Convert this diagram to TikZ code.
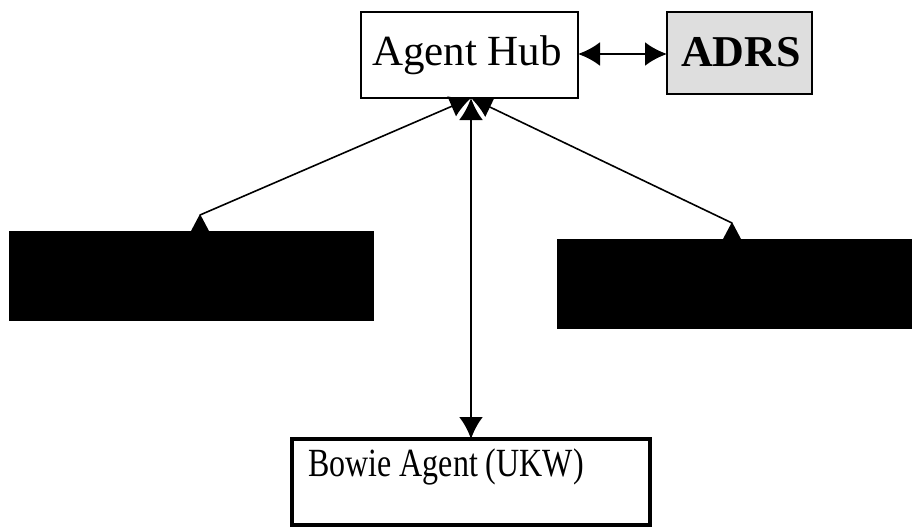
\documentclass[tikz,border=0pt]{standalone}
\usepackage{fontspec}
\setmainfont{Liberation Serif}
\usetikzlibrary{arrows.meta}
\begin{document}
\begin{tikzpicture}[x=1pt,y=-1pt,
  box/.style={draw=black, line width=2.6pt, rectangle, inner sep=0pt, outer sep=0pt},
  darkbox/.style={draw=black, fill=black, line width=1pt, rectangle, inner sep=0pt, outer sep=0pt},
  bigtip/.style={{Latex[length=22pt,width=24pt]}-{Latex[length=22pt,width=24pt]}},
  thinlink/.style={line width=1.6pt},
  thicklink/.style={line width=2.8pt},
  marker/.style={fill=black}
]
\useasboundingbox (0,0) rectangle (913,527);

\node[box, minimum width=217pt, minimum height=86pt] (hub) at (469.5,55) {};
\node (hubtext) at (467,55) {\fontsize{43}{48}\selectfont Agent Hub};

\node[box, fill=black!13, minimum width=145pt, minimum height=82pt] (adrs) at (739.5,53) {};
\node (adrstext) at (741,52) {\fontsize{44}{50}\selectfont\bfseries ADRS};

\node[darkbox, minimum width=364pt, minimum height=89pt] (left) at (191,275.5) {};
\node[darkbox, minimum width=354pt, minimum height=89pt] (right) at (734,283.5) {};

\node[box, line width=3.4pt, minimum width=358pt, minimum height=86pt] (bowie) at (471,482) {};
\node[anchor=west, inner sep=0pt] (bowietext) at (308,467) {\fontsize{40}{45}\selectfont\scalebox{0.8}[1]{Bowie Agent (UKW)}};

\coordinate (hubb) at (471,98);
\coordinate (lt) at (200,231);
\coordinate (rt) at (732,239);
\coordinate (ha) at (578,54);

\draw[thicklink, bigtip] (ha) -- (ha -| adrs.west);
\draw[thicklink, bigtip] (hubb) -- (bowie.north -| hubb);
\draw[thinlink, {Latex[length=21pt,width=22pt]}-] (hubb) -- ([yshift=16pt]lt);
\draw[thinlink, {Latex[length=21pt,width=22pt]}-] (hubb) -- ([yshift=16pt]rt);
\fill[marker] ([yshift=17pt]lt) -- ([xshift=-9pt]lt) -- ([xshift=9pt]lt) -- cycle;
\fill[marker] ([yshift=17pt]rt) -- ([xshift=-9pt]rt) -- ([xshift=9pt]rt) -- cycle;
\end{tikzpicture}
\end{document}
